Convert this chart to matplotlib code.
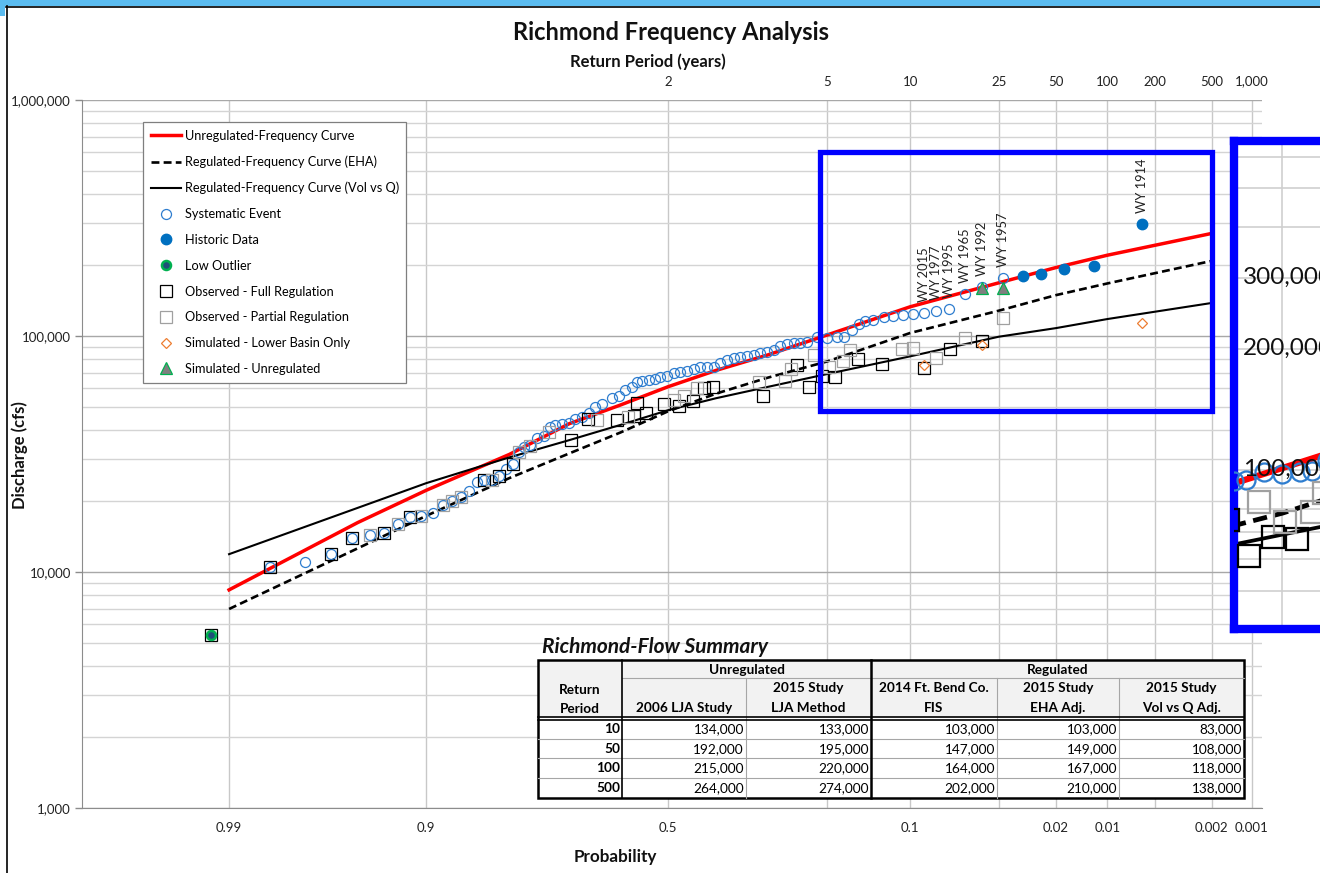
import matplotlib
matplotlib.use('Agg')
import matplotlib.pyplot as plt
import numpy as np
from statistics import NormalDist
from matplotlib.ticker import FixedLocator, NullLocator, LogLocator, FuncFormatter, NullFormatter
from matplotlib.patches import Rectangle
from matplotlib.transforms import blended_transform_factory

plt.rcParams['font.family'] = ['Lato', 'DejaVu Sans']

# ---------------- data (exceedance probability, discharge cfs) ----------------
curve_p = [0.99, 0.95, 0.9, 0.8, 0.7, 0.6, 0.5, 0.4, 0.3, 0.2, 0.1, 0.04, 0.02, 0.01, 0.002]
unreg_q = [8400, 16200, 22200, 31500, 42500, 51000, 61000, 71500, 83000, 101000, 133000, 168000, 195000, 220000, 272000]
eha_q = [6970, 12600, 17300, 25000, 31800, 39000, 48000, 57000, 66500, 78000, 103000, 128000, 149000, 167000, 208000]
volq_q = [11900, 18700, 23800, 30600, 36200, 42000, 48500, 54500, 60800, 69000, 82000, 99300, 108000, 118000, 138000]

sys_p = [0.9825, 0.9728, 0.963, 0.953, 0.943, 0.934, 0.924, 0.914, 0.9046, 0.8937,
         0.8838, 0.874, 0.8637, 0.8538, 0.8445, 0.836, 0.8248, 0.815, 0.8046, 0.795,
         0.7858, 0.778, 0.7676, 0.7565, 0.7454, 0.7352, 0.7253, 0.7133, 0.7012, 0.6889,
         0.6762, 0.6635, 0.6505, 0.637, 0.6172, 0.6037, 0.590, 0.5763, 0.566, 0.5553,
         0.5415, 0.5275, 0.517, 0.5028, 0.4888, 0.4746, 0.4606, 0.4467, 0.4327, 0.4188,
         0.4052, 0.3915, 0.3779, 0.3647, 0.3516, 0.3384, 0.3257, 0.3131, 0.3005, 0.2885,
         0.2766, 0.2648, 0.2534, 0.2423, 0.2313, 0.2155, 0.2003, 0.1858, 0.1766, 0.1653,
         0.1567, 0.1484, 0.1385, 0.1271, 0.117, 0.1073, 0.0978, 0.0876, 0.0779, 0.0684,
         0.0579, 0.048, 0.0381]
sys_q = [10500, 11030, 11920, 13930, 14350, 14590, 15970, 17100, 17320, 17830,
         19230, 19990, 20730, 22080, 24130, 24540, 24540, 25520, 27320, 28600,
         32090, 33860, 34520, 36860, 37680, 41040, 41970, 42380, 42920, 44370,
         45240, 47040, 50150, 51520, 54450, 55690, 59030, 60620, 64030, 64660,
         65100, 65920, 66830, 67690, 69500, 70590, 71280, 72270, 73690, 74130,
         74130, 77090, 79100, 80440, 81700, 82250, 83090, 84480, 85560, 87230,
         90700, 92200, 93670, 93670, 94320, 98750, 97780, 98750, 99320, 106000,
         112400, 116300, 116900, 120000, 121600, 122700, 123600, 125600, 128000, 129800,
         150700, 161800, 175600]

hist_p = [0.0301, 0.0241, 0.018, 0.012, 0.006]
hist_q = [180100, 183100, 191700, 198600, 297400]

low_p = [0.9923]
low_q = [5410]

full_p = [0.9923, 0.9825, 0.963, 0.953, 0.934, 0.914, 0.836, 0.815, 0.795, 0.6963,
          0.664, 0.607, 0.573, 0.5658, 0.5474, 0.5085, 0.4772, 0.4473, 0.4258, 0.4068,
          0.3075, 0.2477, 0.2287, 0.2078, 0.1882, 0.1578, 0.1285, 0.0876, 0.0681, 0.0482]
full_q = [5410, 10500, 11920, 13930, 14590, 17100, 24540, 25520, 28700, 36240,
          44690, 43850, 45600, 52000, 47040, 51520, 50500, 53040, 60220, 60960,
          55690, 74990, 60960, 68000, 67350, 80130, 76100, 73180, 87800, 94780]

part_p = [0.943, 0.924, 0.9046, 0.8838, 0.874, 0.8637, 0.8248, 0.7858, 0.7676, 0.737,
          0.6466, 0.585, 0.488, 0.4677, 0.4396, 0.3162, 0.2677, 0.2574, 0.2197, 0.1977,
          0.177, 0.168, 0.1079, 0.0978, 0.0779, 0.058, 0.0381]
part_q = [14350, 15970, 17320, 19230, 19990, 20730, 24540, 32200, 34300, 39310,
          44270, 45500, 53550, 55530, 60030, 64030, 64460, 72610, 83090, 74130,
          78580, 87500, 87800, 89200, 80440, 98540, 118900]

lower_p = [0.0879, 0.0482, 0.006]
lower_q = [75400, 91200, 113900]

simu_p = [0.0483, 0.0381]
simu_q = [159300, 159300]

wy_labels = ['WY 2015', 'WY 1977', 'WY 1995', 'WY 1965', 'WY 1992', 'WY 1957', 'WY 1914']
wy_p = [0.0876, 0.0779, 0.0684, 0.0579, 0.048, 0.0381, 0.006]
wy_q = [125600, 128000, 129800, 150700, 161800, 175600, 297400]

grid_p = [0.99, 0.9, 0.5, 0.2, 0.1, 0.04, 0.02, 0.01, 0.005, 0.002, 0.001]
bottom_labels = ['0.99', '0.9', '0.5', '', '0.1', '', '0.02', '0.01', '', '0.002', '0.001']
top_p = [0.5, 0.2, 0.1, 0.04, 0.02, 0.01, 0.005, 0.002, 0.001]
top_labels = ['2', '5', '10', '25', '50', '100', '200', '500', '1,000']

tab_periods = [10, 50, 100, 500]
tab_lja2006 = [134000, 192000, 215000, 264000]
tab_lja2015 = [133000, 195000, 220000, 274000]
tab_fis2014 = [103000, 147000, 164000, 202000]
tab_eha2015 = [103000, 149000, 167000, 210000]
tab_volq2015 = [83000, 108000, 118000, 138000]

# ---------------- probability scale ----------------
_nd = NormalDist()
_ppf = np.vectorize(_nd.inv_cdf, otypes=[float])
_cdf = np.vectorize(_nd.cdf, otypes=[float])


def prob_fwd(p):
    p = np.clip(np.asarray(p, dtype=float), 1e-9, 1 - 1e-9)
    return _ppf(p)


def prob_inv(z):
    return _cdf(np.asarray(z, dtype=float))


W, H = 1320, 873
fig = plt.figure(figsize=(13.2, 8.73), dpi=100)


def fig_rect(x0, y0, x1, y1):
    return [x0 / W, 1 - y1 / H, (x1 - x0) / W, (y1 - y0) / H]


RED = '#ff0000'
BLUE_O = '#2e7dcf'
BLUE_F = '#0070c0'
GRAY_SQ = '#a0a0a0'
ORANGE = '#ed7d31'
GREEN = '#00b050'


def draw_series(a, scale=1.0, labels=True):
    lab = (lambda s: s) if labels else (lambda s: '_' + s)
    a.plot(curve_p, unreg_q, color=RED, lw=2.5 * scale, label=lab('Unregulated-Frequency Curve'), zorder=2.5)
    a.plot(curve_p, eha_q, color='black', lw=1.9 * scale, ls=(0, (3, 1.6)),
           label=lab('Regulated-Frequency Curve (EHA)'), zorder=2.5)
    a.plot(curve_p, volq_q, color='black', lw=1.5 * scale, label=lab('Regulated-Frequency Curve (Vol vs Q)'), zorder=2.5)
    a.plot(sys_p, sys_q, ls='none', marker='o', ms=7.2 * scale, mfc='none', mec=BLUE_O, mew=0.9 * scale,
           label=lab('Systematic Event'), zorder=3)
    a.plot(hist_p, hist_q, ls='none', marker='o', ms=7.5 * scale, mfc=BLUE_F, mec=BLUE_F,
           label=lab('Historic Data'), zorder=3.2)
    a.plot(low_p, low_q, ls='none', marker='o', ms=6.5 * scale, mfc='#1f4e79', mec=GREEN, mew=1.8 * scale,
           label=lab('Low Outlier'), zorder=3.3)
    a.plot(full_p, full_q, ls='none', marker='s', ms=9 * scale, mfc='none', mec='black', mew=0.9 * scale,
           label=lab('Observed - Full Regulation'), zorder=3)
    a.plot(part_p, part_q, ls='none', marker='s', ms=9 * scale, mfc='none', mec=GRAY_SQ, mew=0.9 * scale,
           label=lab('Observed - Partial Regulation'), zorder=3)
    a.plot(lower_p, lower_q, ls='none', marker='D', ms=5.5 * scale, mfc='none', mec=ORANGE, mew=0.9 * scale,
           label=lab('Simulated - Lower Basin Only'), zorder=3.1)
    a.plot(simu_p, simu_q, ls='none', marker='^', ms=8 * scale, mfc='#7f7f7f', mec=GREEN, mew=0.9 * scale,
           label=lab('Simulated - Unregulated'), zorder=3.1)


# ---------------- main chart ----------------
ax = fig.add_axes(fig_rect(82, 100, 1262, 808))
ax.set_xscale('function', functions=(prob_fwd, prob_inv))
ax.set_yscale('log')
ax.set_xlim(0.99905, 0.00083)
ax.set_ylim(1000, 1e6)

ax.xaxis.set_major_locator(FixedLocator(grid_p))
ax.xaxis.set_minor_locator(NullLocator())
ax.set_xticklabels(bottom_labels)
ax.yaxis.set_major_locator(LogLocator(base=10, numticks=10))
ax.yaxis.set_minor_locator(LogLocator(base=10, subs=np.arange(2, 10), numticks=20))
ax.yaxis.set_major_formatter(FuncFormatter(lambda v, pos: f'{v:,.0f}'))
ax.yaxis.set_minor_formatter(NullFormatter())

ax.grid(True, axis='x', which='major', color='#c8c8c8', lw=1.0, zorder=0)
ax.grid(True, axis='y', which='major', color='#a8a8a8', lw=1.0, zorder=0)
ax.grid(True, axis='y', which='minor', color='#d4d4d4', lw=1.0, zorder=0)
ax.set_axisbelow(True)
for s in ['top', 'right']:
    ax.spines[s].set_visible(False)
for s in ['left', 'bottom']:
    ax.spines[s].set_color('#8c8c8c')
ax.tick_params(axis='x', which='both', length=0, pad=10, labelsize=9.5, colors='#222222')
ax.tick_params(axis='y', which='major', length=5, width=1, color='#8c8c8c', pad=3, labelsize=9.5,
               labelcolor='#222222')
ax.tick_params(axis='y', which='minor', length=0)

draw_series(ax)

for lab, p, q in zip(wy_labels, wy_p, wy_q):
    ax.annotate(lab, (p, q), xytext=(0, 8), textcoords='offset points', rotation=90,
                ha='center', va='bottom', fontsize=9.3, color='#222222', zorder=4)

leg = ax.legend(loc='upper left', bbox_to_anchor=(143 / W, 1 - 122 / H), bbox_transform=fig.transFigure,
                borderaxespad=0, fontsize=9.2, frameon=True, fancybox=False, edgecolor='#7f7f7f',
                framealpha=1, labelspacing=1.08, handlelength=2.4, handletextpad=0.25, borderpad=0.6)
leg.get_frame().set_linewidth(0.9)

ax2 = ax.twiny()
ax2.set_xscale('function', functions=(prob_fwd, prob_inv))
ax2.set_xlim(ax.get_xlim())
ax2.xaxis.set_major_locator(FixedLocator(top_p))
ax2.xaxis.set_minor_locator(NullLocator())
ax2.set_xticklabels(top_labels)
ax2.tick_params(axis='x', length=0, pad=9, labelsize=9.5, colors='#222222')
for s in ax2.spines.values():
    s.set_visible(False)

fig.text(671 / W, 1 - 32 / H, 'Richmond Frequency Analysis', ha='center', va='center',
         fontsize=17, fontweight='bold', color='#111111')
fig.text(648 / W, 1 - 62 / H, 'Return Period (years)', ha='center', va='center',
         fontsize=12, fontweight='bold', color='#111111')
fig.text(615 / W, 1 - 857 / H, 'Probability', ha='center', va='center',
         fontsize=12.3, fontweight='bold', color='#111111')
fig.text(20 / W, 1 - 455 / H, 'Discharge (cfs)', ha='center', va='center', rotation=90,
         fontsize=12, fontweight='bold', color='#111111')

# ---------------- overlay: table, highlight box, slide frame ----------------
ov = fig.add_axes([0, 0, 1, 1])
ov.set_xlim(0, W)
ov.set_ylim(H, 0)
ov.axis('off')
ov.patch.set_alpha(0)

# slide frame
ov.add_patch(Rectangle((0, 0), W, 6, fc='#5bbcf0', ec='none'))
ov.add_patch(Rectangle((0, 0), 5, 16, fc='#5bbcf0', ec='none'))
ov.plot([6, W], [6.5, 6.5], color='black', lw=1.2)
ov.plot([6.5, 6.5], [6, H], color='black', lw=1.2)

# highlight box
ov.add_patch(Rectangle((820, 152), 392, 259, fill=False, ec='#0000ff', lw=3.8, zorder=5))

# summary table
cx = [538, 622, 746, 871, 997, 1119, 1244]
ty_top, ty_mid, ty_hdr, ty_bot = 660, 678, 718, 798
ry = [718, 739, 758, 778, 798]
ov.add_patch(Rectangle((cx[0], ty_top), cx[-1] - cx[0], ty_hdr - ty_top, fc='#f2f2f2', ec='none'))
ov.add_patch(Rectangle((cx[0], ty_hdr), cx[-1] - cx[0], ty_bot - ty_hdr, fc='white', ec='none'))
thin = dict(color='#a6a6a6', lw=0.8)
ov.plot([cx[1], cx[-1]], [ty_mid, ty_mid], **thin)
for x in [cx[2], cx[4], cx[5]]:
    ov.plot([x, x], [ty_mid, ty_bot], **thin)
for y in ry[1:-1]:
    ov.plot([cx[0], cx[-1]], [y, y], **thin)
ov.plot([cx[1], cx[1]], [ty_top, ty_bot], color='black', lw=1.2)
ov.plot([cx[3], cx[3]], [ty_top, ty_bot], color='black', lw=1.8)
ov.plot([cx[0], cx[-1]], [ty_hdr - 1.5, ty_hdr - 1.5], color='black', lw=1.2)
ov.plot([cx[0], cx[-1]], [ty_hdr + 1.5, ty_hdr + 1.5], color='black', lw=1.2)
ov.add_patch(Rectangle((cx[0], ty_top), cx[-1] - cx[0], ty_bot - ty_top, fill=False, ec='black', lw=1.8))

tfs = 9.8
ov.text(542, 647, 'Richmond-Flow Summary', ha='left', va='center', fontsize=15,
        fontweight='bold', fontstyle='italic', color='#111111')
ov.text((cx[1] + cx[3]) / 2, 669.5, 'Unregulated', ha='center', va='center', fontsize=tfs, fontweight='bold')
ov.text((cx[3] + cx[6]) / 2, 669.5, 'Regulated', ha='center', va='center', fontsize=tfs, fontweight='bold')
ov.text((cx[0] + cx[1]) / 2, 690, 'Return', ha='center', va='center', fontsize=tfs, fontweight='bold')
ov.text((cx[0] + cx[1]) / 2, 709, 'Period', ha='center', va='center', fontsize=tfs, fontweight='bold')
sub_top = ['', '2015 Study', '2014 Ft. Bend Co.', '2015 Study', '2015 Study']
sub_bot = ['2006 LJA Study', 'LJA Method', 'FIS', 'EHA Adj.', 'Vol vs Q Adj.']
for i in range(5):
    xc = (cx[i + 1] + cx[i + 2]) / 2
    if sub_top[i]:
        ov.text(xc, 688, sub_top[i], ha='center', va='center', fontsize=tfs, fontweight='bold')
    ov.text(xc, 708, sub_bot[i], ha='center', va='center', fontsize=tfs, fontweight='bold')
cols = [tab_lja2006, tab_lja2015, tab_fis2014, tab_eha2015, tab_volq2015]
for r, per in enumerate(tab_periods):
    yc = (ry[r] + ry[r + 1]) / 2 + 0.5
    ov.text(cx[1] - 2, yc, str(per), ha='right', va='center', fontsize=tfs, fontweight='bold')
    for c, col in enumerate(cols):
        ov.text(cx[c + 2] - 2, yc, f'{col[r]:,}', ha='right', va='center', fontsize=tfs)

# ---------------- zoomed inset (clipped at the right edge, as in the slide) ----------------
ins = fig.add_axes(fig_rect(1234, 141, 1940, 629))
ins.set_xscale('function', functions=(prob_fwd, prob_inv))
ins.set_yscale('log')
ins.set_xlim(0.242, 0.00285)
ins.set_ylim(40200, 656000)
ins.xaxis.set_major_locator(FixedLocator(grid_p))
ins.xaxis.set_minor_locator(NullLocator())
ins.yaxis.set_major_locator(LogLocator(base=10, numticks=10))
ins.yaxis.set_minor_locator(LogLocator(base=10, subs=np.arange(2, 10), numticks=20))
ins.grid(True, which='both', axis='y', color='#cfcfcf', lw=1.2)
ins.grid(True, which='major', axis='x', color='#cfcfcf', lw=1.2)
ins.set_axisbelow(True)
ins.tick_params(which='both', length=0, labelleft=False, labelbottom=False)
for s in ins.spines.values():
    s.set_color('#0000ff')
    s.set_linewidth(6)
draw_series(ins, scale=1.8, labels=False)
tr = blended_transform_factory(ins.transAxes, ins.transData)
for v in [100000, 200000, 300000]:
    ins.text(0.013, v, f'{v:,}', transform=tr, ha='left', va='center', fontsize=17.5, color='#111111', zorder=6)

fig.savefig('out.png', dpi=100)
